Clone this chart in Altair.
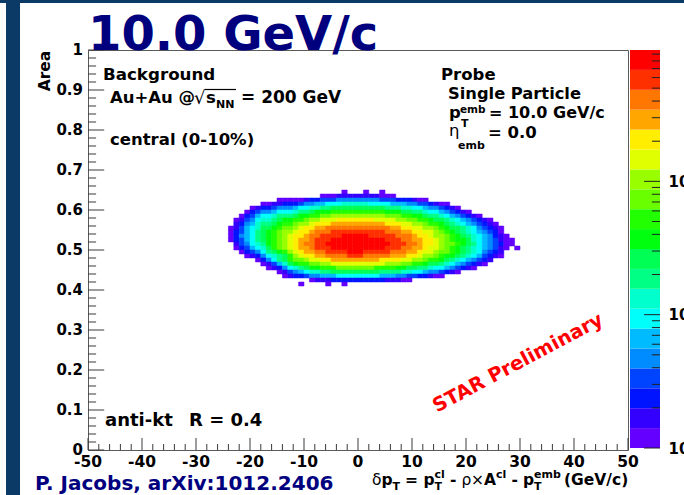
import altair as alt
import numpy as np
import pandas as pd

FONT = "DejaVu Sans"
NAVY = "#00007f"
SLIDE_BLUE = "#0b3a66"
FRAME = "#5a5a5a"
TICK = "#3a3a3a"

# plot-area size and its offset inside the 684x495 canvas
W, H = 540, 400
LEFT, TOP = 88, 50

# 2D histogram: delta-pT in 1 GeV/c bins (first bin starts at -25) versus jet
# area in 0.01 bins (top row starts at 0.64).  One character per bin gives its
# colour contour: 0-9, then a-j for contours 10-19; '.' is an empty bin.
X_FIRST = -25
AREA_TOP = 0.64
hist_rows = [
    ". ....... .... ........ ..0...0..0 .......... .......... .....",
    ". ....... .... ......00 0111111110 00........ .......... .....",
    ". ....... ..00 00012233 3444444443 33222100.. .......... .....",
    ". ......0 0112 22344556 6677777666 6555443321 00........ .....",
    ". ....012 2344 45667788 9999999999 8887766544 3210...... .....",
    ". ...0234 4566 67889aaa bbbbbbbbbb aaa9988766 543210.... .....",
    ". ..02356 6788 89aabbcc dddddddddd cccbbaa988 76543210.. .....",
    ". .013467 789a abbcddee efffffffee eeddccbba9 9876543210 .....",
    ". .124578 89ab bcddefff gggggggggg fffeeddcbb a987654321 0....",
    ". 0135679 9abc cdeffggh hhhhhhhhhh hggffeeddc ba99876432 10...",
    ". 0235689 abcd deffghhh iiiiiiiiii hhhggffeed cba9876543 20...",
    ". 0245689 abcd effghhii iijjjjjiii iihhhgffed dcba987654 210..",
    ". 0235689 abcd efgghiii jjjjjjjjjj iiihhggffe dcbaa97654 3100.",
    ". .134678 abcd efghhiij jjjjjjjjjj jiiihhgffe dccba98654 3200.",
    ". .023567 9bcd efgghiii jjjjjjjjjj iiihhggfee dcba987654 310.0",
    ". ..02346 89ab defgghhi iiijjjiiii ihhhggfeed ccba987643 21...",
    ". ...0124 6789 bdeffggh hhhiiihhhh hgggffeddc baa9876532 10...",
    ". .....02 4689 bccdeeff gggggggggf fffeeddcbb a987654321 .....",
    ". ......0 1357 9abbccdd eeeeeeeeee dddccbba99 876543210. .....",
    ". ....... 0124 6789aabb bcccccccbb bbaa998876 6543210... .....",
    ". ....... ..01 34567788 9999999998 8887766544 3210...... .....",
    ". ....... ...0 12234455 5666666665 5544332210 0......... .....",
    ". ....... .... ....0111 2222222222 11100..... .......... .....",
    ". ....... .... ..0....0 ..0....... .......... .......... .....",
]

# ROOT rainbow palette, 20 contours from lowest (violet) to highest (red)
palette = [
    "#6300ff", "#3300ff", "#0014ff", "#0044ff", "#008bff",
    "#00bbff", "#00fffb", "#00ffcc", "#00ff85", "#00ff55",
    "#00ff0e", "#22ff00", "#69ff00", "#99ff00", "#e0ff00",
    "#ffee00", "#ffa700", "#ff7700", "#ff3000", "#ff0000",
]
Z_MIN, Z_MAX = 1, 966  # log colour axis

x_major = [-50, -40, -30, -20, -10, 0, 10, 20, 30, 40, 50]
x_minor = [v for v in range(-50, 51, 2) if v % 10]
y_major = [0, 0.1, 0.2, 0.3, 0.4, 0.5, 0.6, 0.7, 0.8, 0.9, 1]
y_minor = [round(0.02 * i, 2) for i in range(51) if i % 5]
z_major = [1, 10, 100]
z_minor = [2, 3, 4, 5, 6, 7, 8, 9, 20, 30, 40, 50, 60, 70, 80, 90,
           200, 300, 400, 500, 600, 700, 800, 900]
TICK_LEN = 0.03  # ROOT tick length, as a fraction of the other axis

# ---- cells ---------------------------------------------------------------
cells = []
for r, row in enumerate(hist_rows):
    bins = row.replace(" ", "")
    lo = round(AREA_TOP - 0.01 * r, 2)
    for i, ch in enumerate(bins):
        if ch == ".":
            continue
        cells.append({"x0": X_FIRST + i, "x1": X_FIRST + i + 1,
                      "a0": lo, "a1": round(lo + 0.01, 2), "level": int(ch, 36)})
heat_df = pd.DataFrame(cells)

x_scale = alt.Scale(domain=[-50, 50], nice=False, zero=False)
y_scale = alt.Scale(domain=[0, 1], nice=False, zero=False)
levels = list(range(len(palette)))
color_scale = alt.Scale(domain=levels, range=palette)

heat = alt.Chart(heat_df).mark_rect(strokeWidth=0.5).encode(
    x=alt.X("x0:Q", scale=x_scale, axis=None),
    x2="x1:Q",
    y=alt.Y("a0:Q", scale=y_scale, axis=None),
    y2="a1:Q",
    color=alt.Color("level:O", scale=color_scale, legend=None),
    stroke=alt.Stroke("level:O", scale=color_scale, legend=None),
)

# ---- tick marks (ROOT style, pointing into the frame) ----------------------
x_span, y_span = 100, 1
yt_df = pd.DataFrame({"v": y_major + y_minor, "x0": -50.0})
yt_df["x1"] = -50 + TICK_LEN * x_span * np.where(
    yt_df["v"].isin(y_major), 1.0, 0.5)
xt_df = pd.DataFrame({"v": x_major + x_minor, "y0": 0.0})
xt_df["y1"] = TICK_LEN * y_span * np.where(xt_df["v"].isin(x_major), 1.0, 0.5)

y_tick_rules = alt.Chart(yt_df).mark_rule(color=TICK, strokeWidth=1).encode(
    y=alt.Y("v:Q", scale=y_scale, axis=None),
    x=alt.X("x0:Q", scale=x_scale, axis=None),
    x2="x1:Q",
)
x_tick_rules = alt.Chart(xt_df).mark_rule(color=TICK, strokeWidth=1).encode(
    x=alt.X("v:Q", scale=x_scale, axis=None),
    y=alt.Y("y0:Q", scale=y_scale, axis=None),
    y2="y1:Q",
)

# ---- tick labels -------------------------------------------------------------
xl_df = pd.DataFrame({"v": x_major, "label": [f"{v:g}" for v in x_major]})
yl_df = pd.DataFrame({"v": y_major, "label": [f"{v:g}" for v in y_major]})

x_labels = alt.Chart(xl_df).mark_text(
    font=FONT, fontWeight="bold", fontSize=15.5, color="black",
    align="center", baseline="top").encode(
    x=alt.X("v:Q", scale=x_scale, axis=None),
    y=alt.value(H + 5),
    text="label:N",
)
y_labels = alt.Chart(yl_df).mark_text(
    font=FONT, fontWeight="bold", fontSize=15, color="black",
    align="right", baseline="middle").encode(
    y=alt.Y("v:Q", scale=y_scale, axis=None),
    x=alt.value(-5),
    text="label:N",
)

ONE = pd.DataFrame({"k": [0]})


def txt(text, x, y, size, weight="bold", color="black", font=FONT,
        align="left", baseline="alphabetic", angle=None):
    kw = dict(text=text, fontSize=size, fontWeight=weight, color=color,
              font=font, align=align, baseline=baseline)
    if angle is not None:
        kw["angle"] = angle
    return alt.Chart(ONE).mark_text(**kw).encode(
        x=alt.value(x - LEFT), y=alt.value(y - TOP))


def bar(x0, x1, y0, y1, color):
    return alt.Chart(ONE).mark_rect(color=color).encode(
        x=alt.value(x0 - LEFT), x2=alt.value(x1 - LEFT),
        y=alt.value(y0 - TOP), y2=alt.value(y1 - TOP))


deco = [bar(6, 20, 0, 495, SLIDE_BLUE), bar(0, 684, 0, 3, SLIDE_BLUE)]

texts = [
    txt("10.0 GeV/c", 88, 50, 48, color=NAVY),
    txt("Area", 45, 71, 15.5, align="center", baseline="middle", angle=270),
    txt("Background", 103, 80, 16.7),
    txt("Au+Au @", 110, 103, 16.5),
    txt("\u221a", 194, 104, 18, weight="normal"),
    txt("s", 206, 103, 16.5),
    txt("NN", 216, 108, 11),
    txt("= 200 GeV", 241, 103, 17),
    txt("central (0-10%)", 110, 145, 16.5),
    txt("Probe", 441, 80, 16.5),
    txt("Single Particle", 448, 99, 16.3),
    txt("p", 449, 118, 16.5),
    txt("emb", 460, 113, 10.5),
    txt("T", 461, 127, 11),
    txt("= 10.0 GeV/c", 489, 118, 16),
    txt("\u03b7", 449, 136, 16.5, weight="normal"),
    txt("emb", 458, 149, 11),
    txt("= 0.0", 488, 138, 16.5),
    txt("anti-kt", 105, 426, 18),
    txt("R = 0.4", 189, 426, 18),
    txt("STAR Preliminary", 518, 363, 19.5, color="#ff0000",
        align="center", baseline="middle", angle=332),
    txt("P. Jacobs, arXiv:1012.2406", 35, 490, 20, color=NAVY),
    # x-axis title: dpT = pT^cl - rho x A^cl - pT^emb (GeV/c)
    txt("\u03b4", 372, 485, 15.5, weight="normal"),
    txt("p", 381.5, 485, 15.5),
    txt("T", 392.6, 490, 11),
    txt("=", 405, 485, 15.5),
    txt("p", 423.5, 485, 15.5),
    txt("cl", 434.6, 478, 11),
    txt("T", 434.6, 490, 11),
    txt("-", 450, 485, 15.5),
    txt("\u03c1", 461.5, 485, 15.5, weight="normal"),
    txt("\u00d7", 471, 485, 15.5, weight="normal"),
    txt("A", 484, 485, 15.5),
    txt("cl", 496, 478, 11),
    txt("-", 511.5, 485, 15.5),
    txt("p", 523, 485, 15.5),
    txt("emb", 534, 478, 11),
    txt("T", 534, 490, 11),
    txt("(GeV/c)", 564, 485, 15.5),
]

# vinculum of the square root over s_NN
vinculum = alt.Chart(ONE).mark_rule(color="black", strokeWidth=1.2).encode(
    x=alt.value(205 - LEFT), x2=alt.value(236 - LEFT), y=alt.value(89.5 - TOP))

main_layer = alt.layer(*deco, heat, y_tick_rules, x_tick_rules,
                       x_labels, y_labels, *texts, vinculum)

# ---- colour bar ------------------------------------------------------------
edges = np.logspace(np.log10(Z_MIN), np.log10(Z_MAX), len(palette) + 1)
cbar_df = pd.DataFrame({"level": levels, "lo": edges[:-1], "hi": edges[1:],
                        "c0": 0.0, "c1": 1.0})
z_scale = alt.Scale(type="log", domain=[Z_MIN, Z_MAX], range=[398, 0], nice=False)
CBAR_X0, CBAR_X1 = 630 - LEFT, 660 - LEFT
cbar_x = alt.Scale(domain=[0, 1], range=[CBAR_X0, CBAR_X1])

cbar = alt.Chart(cbar_df).mark_rect().encode(
    x=alt.X("c0:Q", scale=cbar_x, axis=None),
    x2="c1:Q",
    y=alt.Y("lo:Q", scale=z_scale, axis=None),
    y2="hi:Q",
    color=alt.Color("level:O", scale=color_scale, legend=None),
)
zt_df = pd.DataFrame({"v": z_major + z_minor, "c1": 1.0})
zt_df["c0"] = 1 - np.where(zt_df["v"].isin(z_major), 0.53, 0.27)
cbar_ticks = alt.Chart(zt_df).mark_rule(color="#202020", strokeWidth=1).encode(
    y=alt.Y("v:Q", scale=z_scale, axis=None),
    x=alt.X("c0:Q", scale=cbar_x, axis=None),
    x2="c1:Q",
)
cbar_labels = alt.Chart(pd.DataFrame({"v": z_major})).mark_point(opacity=0).encode(
    y=alt.Y("v:Q", scale=z_scale,
            axis=alt.Axis(orient="right", offset=CBAR_X1 - W, values=z_major,
                          ticks=False, tickSize=0, labelPadding=8,
                          labelFont=FONT, labelFontWeight="bold",
                          labelFontSize=15, labelColor="black",
                          labelFlush=False, labelOverlap=False,
                          labelExpr="datum.value == 1 ? '10\u2070' : "
                                    "datum.value == 10 ? '10\u00b9' : '10\u00b2'",
                          domain=False, grid=False, title=None)),
)
cbar_layer = alt.layer(cbar, cbar_ticks, cbar_labels).resolve_axis(
    x="independent", y="independent")

chart = (
    alt.layer(main_layer, cbar_layer)
    .resolve_scale(x="independent", y="independent")
    .properties(width=W, height=H,
                autosize=alt.AutoSizeParams(type="none"),
                padding={"left": LEFT, "top": TOP, "right": 684 - LEFT - W,
                         "bottom": 495 - TOP - H},
                background="white")
    .configure_view(stroke=FRAME, strokeWidth=1)
)

chart.save("out.html", embed_options={"renderer": "svg", "actions": False})
